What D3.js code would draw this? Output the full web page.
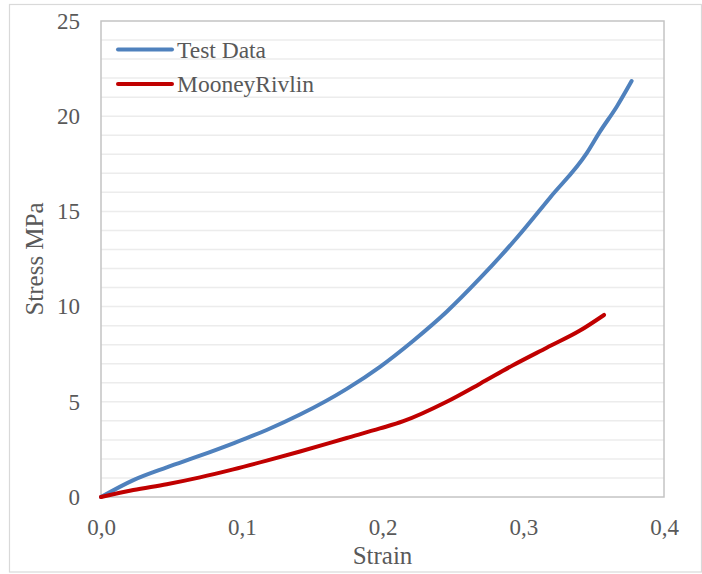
<!DOCTYPE html>
<html>
<head>
<meta charset="utf-8">
<script src="https://cdn.jsdelivr.net/npm/d3@7"></script>
<style>
  body { margin: 0; background: #fff; }
  text { font-family: "Liberation Serif", "Times New Roman", serif; fill: #595959; }
</style>
</head>
<body>
<svg id="chart"></svg>
<script>
// values
const testStrain = [0, 0.023, 0.0467, 0.0703, 0.094, 0.1177, 0.1414, 0.1746, 0.1982, 0.2219, 0.2456, 0.2693, 0.2953, 0.319, 0.345, 0.3545, 0.3664, 0.377];
const testStress = [0, 0.89, 1.56, 2.17, 2.82, 3.52, 4.33, 5.68, 6.84, 8.21, 9.73, 11.49, 13.6, 15.72, 18.05, 19.19, 20.5, 21.85];

const mrStrain = [0, 0.023, 0.0467, 0.0703, 0.094, 0.1177, 0.1414, 0.1746, 0.1982, 0.2148, 0.2456, 0.2693, 0.293, 0.3167, 0.3403, 0.3574];
const mrStress = [0, 0.37, 0.67, 1.03, 1.45, 1.91, 2.39, 3.1, 3.6, 3.98, 5.0, 5.95, 6.93, 7.84, 8.74, 9.56];

const seriesNames = ["Test Data", "MooneyRivlin"];
const seriesColors = ["#4f81bd", "#c00000"];

const xTicks = [0, 0.1, 0.2, 0.3, 0.4];
const yTicks = [0, 5, 10, 15, 20, 25];

const width = 702, height = 574;
const margin = {top: 21, right: 38, bottom: 77, left: 101};
const w = width - margin.left - margin.right;
const h = height - margin.top - margin.bottom;

const svg = d3.select("#chart").attr("width", width).attr("height", height);

// outer chart border
svg.append("rect")
  .attr("x", 9.5).attr("y", 4.5)
  .attr("width", 692).attr("height", 567.5)
  .attr("fill", "none").attr("stroke", "#d9d9d9").attr("stroke-width", 1.2);

const chart = svg.append("g").attr("transform", `translate(${margin.left},${margin.top})`);

const x = d3.scaleLinear().domain([0, 0.4]).range([0, w]);
const y = d3.scaleLinear().domain([0, 25]).range([h, 0]);

// minor horizontal gridlines every 1 MPa
chart.append("g")
  .selectAll("line")
  .data(d3.range(1, 25))
  .join("line")
    .attr("x1", 0).attr("x2", w)
    .attr("y1", d => y(d)).attr("y2", d => y(d))
    .attr("stroke", "#ececec").attr("stroke-width", 1.5);

// plot area frame
chart.append("rect")
  .attr("width", w).attr("height", h)
  .attr("fill", "none").attr("stroke", "#c4c4c4").attr("stroke-width", 1.5);

// axes
const xAxis = d3.axisBottom(x).tickValues(xTicks).tickSize(0).tickPadding(22)
  .tickFormat(d => d3.format(".1f")(d).replace(".", ","));
const yAxis = d3.axisLeft(y).tickValues(yTicks).tickSize(0).tickPadding(21);

chart.append("g").attr("transform", `translate(0,${h})`).call(xAxis)
  .call(g => g.select(".domain").remove())
  .selectAll("text").attr("font-size", "23px").attr("fill", "#595959")
  .attr("font-family", "Liberation Serif");

chart.append("g").call(yAxis)
  .call(g => g.select(".domain").remove())
  .selectAll("text").attr("font-size", "23px").attr("fill", "#595959")
  .attr("font-family", "Liberation Serif");

// axis titles
svg.append("text")
  .attr("x", margin.left + w / 2).attr("y", 564)
  .attr("text-anchor", "middle").attr("font-size", "25px")
  .text("Strain");

svg.append("text")
  .attr("transform", `translate(34,${margin.top + h / 2}) rotate(-90)`)
  .attr("text-anchor", "middle").attr("dy", "0.35em").attr("font-size", "25px")
  .text("Stress MPa");

// lines
const line = d3.line()
  .x(d => x(d[0]))
  .y(d => y(d[1]))
  .curve(d3.curveMonotoneX);

const series = [
  d3.zip(testStrain, testStress),
  d3.zip(mrStrain, mrStress)
];

chart.selectAll(".series")
  .data(series)
  .join("path")
    .attr("class", "series")
    .attr("d", line)
    .attr("fill", "none")
    .attr("stroke", (d, i) => seriesColors[i])
    .attr("stroke-width", 4)
    .attr("stroke-linecap", "round")
    .attr("stroke-linejoin", "round");

// legend
const legend = svg.append("g");
const items = legend.selectAll("g")
  .data(seriesNames)
  .join("g")
    .attr("transform", (d, i) => `translate(118,${49.5 + i * 34.5})`);

items.append("line")
  .attr("x1", 0).attr("x2", 54)
  .attr("stroke", (d, i) => seriesColors[i])
  .attr("stroke-width", 4)
  .attr("stroke-linecap", "round");

items.append("text")
  .attr("x", 59).attr("y", 8)
  .attr("font-size", "23.5px")
  .text(d => d);
</script>
</body>
</html>
